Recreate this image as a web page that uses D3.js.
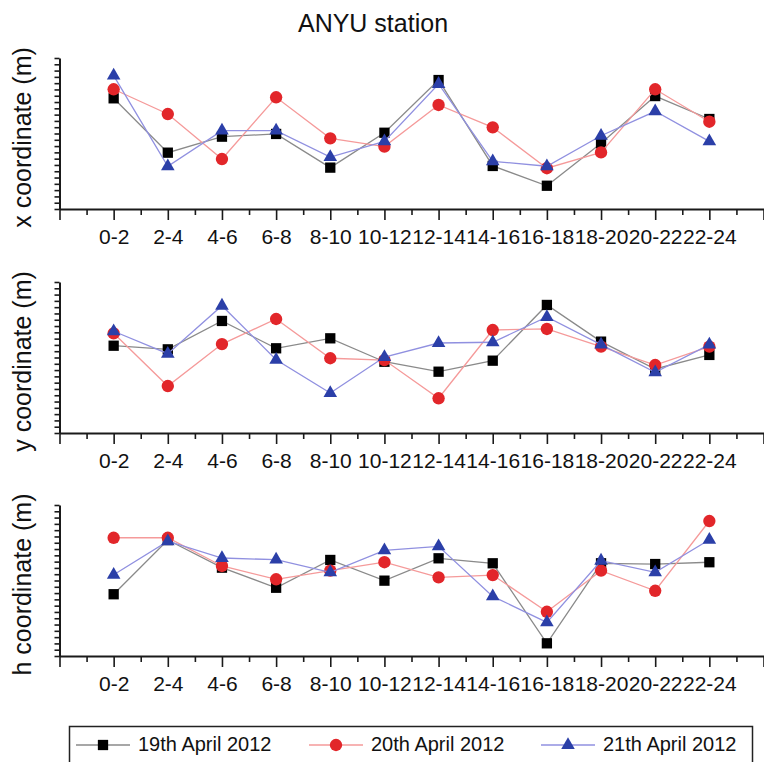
<!DOCTYPE html>
<html>
<head>
<meta charset="utf-8">
<script src="https://cdn.jsdelivr.net/npm/d3@7"></script>
<style>
  body { margin: 0; background: #fff; }
  svg { display: block; font-family: "Liberation Sans", Arial, sans-serif; }
</style>
</head>
<body>
<svg width="764" height="762"></svg>
<script>
// time windows (hours)
const hours = ['0-2', '2-4', '4-6', '6-8', '8-10', '10-12', '12-14', '14-16', '16-18', '18-20', '20-22', '22-24'];
const dayNames = ['19th April 2012', '20th April 2012', '21th April 2012'];

// relative coordinate values (no units shown, 0-100 of the axis)
const x19 = [73.3, 37.3, 47.9, 49.7, 27.4, 50.5, 85.4, 28.5, 15.4, 43.5, 74.8, 59.6];
const x20 = [79.3, 62.9, 33.1, 74.0, 46.8, 41.3, 68.9, 54.1, 27.0, 37.5, 79.3, 57.8];
const x21 = [88.3, 28.3, 51.9, 51.9, 34.4, 44.8, 82.8, 31.6, 28.3, 48.5, 64.7, 44.8];

const y19 = [57.8, 55.4, 74.2, 56.1, 62.7, 47.2, 40.6, 47.9, 84.8, 60.5, 42.4, 51.7];
const y20 = [66.0, 31.1, 58.9, 75.5, 49.5, 48.3, 23.0, 68.2, 68.9, 57.2, 45.0, 57.2];
const y21 = [67.4, 52.5, 84.3, 48.5, 26.5, 50.3, 59.6, 60.1, 76.8, 58.5, 40.2, 58.5];

const h19 = [40.9, 76.8, 58.5, 45.2, 63.6, 49.9, 64.7, 61.4, 8.4, 61.4, 60.9, 62.1];
const h20 = [78.3, 78.3, 59.6, 50.8, 56.5, 62.1, 52.1, 53.6, 29.3, 56.5, 43.2, 89.4];
const h21 = [53.8, 76.0, 64.9, 63.8, 55.4, 70.0, 72.6, 39.5, 22.3, 63.1, 55.4, 77.0];

const panelLabels = ['x coordinate (m)', 'y coordinate (m)', 'h coordinate (m)'];
const panelData = [[x19, x20, x21], [y19, y20, y21], [h19, h20, h21]];

const SVG = d3.select('svg');
const PANEL_TOPS = [58, 282, 505];
const PANEL_H = 151;

const LINE_COLORS = ['#8a8a8a', '#f59a9a', '#9090e0'];
const MARK_COLORS = ['#000000', '#e2262a', '#2b3fa8'];
const SYMBOLS = [d3.symbolSquare, d3.symbolCircle, d3.symbolTriangle];
const SYMBOL_SIZES = [106, 120, 80];

const X_SCALE = d3.scaleLinear()
  .domain([-1, 12])
  .range([59.5, 763.5]);

// title
SVG.append('text')
  .attr('x', 373)
  .attr('y', 31.5)
  .attr('text-anchor', 'middle')
  .style('font-size', '25px')
  .style('fill', '#111')
  .text('ANYU station');

panelData.forEach((series, p) => {
  const top = PANEL_TOPS[p];
  const bottom = top + PANEL_H;

  const Y_SCALE = d3.scaleLinear()
    .domain([0, 100])
    .range([bottom, top]);

  // y axis, tick marks only
  const yAxis = d3.axisLeft(Y_SCALE)
    .tickValues(d3.range(0, 100.01, 100 / 24))
    .tickSize(5)
    .tickSizeOuter(0)
    .tickFormat('');
  const yG = SVG.append('g')
    .attr('transform', `translate(${X_SCALE(-1)},0)`)
    .call(yAxis);
  yG.select('.domain').style('stroke', '#1a1a1a').style('stroke-width', 2);
  yG.selectAll('.tick line').style('stroke', '#1a1a1a').style('stroke-width', 1.6);

  // x axis with half-step minor ticks
  const xAxis = d3.axisBottom(X_SCALE)
    .tickValues(d3.range(-1, 12.01, 0.5))
    .tickSizeOuter(0)
    .tickFormat(d => (Number.isInteger(d) && d >= 0 && d < hours.length) ? hours[d] : '');
  const xG = SVG.append('g')
    .attr('transform', `translate(0,${bottom})`)
    .call(xAxis);
  xG.select('.domain').style('stroke', '#1a1a1a').style('stroke-width', 2);
  xG.selectAll('.tick line')
    .attr('y2', d => Number.isInteger(d) ? 11 : 6)
    .style('stroke', '#1a1a1a')
    .style('stroke-width', 1.6);
  xG.selectAll('.tick text')
    .attr('y', 35)
    .attr('dy', 0)
    .style('font-size', '21px')
    .style('font-family', '"Liberation Sans", Arial, sans-serif')
    .style('fill', '#111');

  // y label
  SVG.append('text')
    .attr('transform', `translate(31,${top + PANEL_H / 2 + 4}) rotate(-90)`)
    .attr('text-anchor', 'middle')
    .style('font-size', '25px')
    .style('fill', '#111')
    .text(panelLabels[p]);

  // series
  series.forEach((vals, s) => {
    const line = d3.line()
      .x((d, i) => X_SCALE(i))
      .y(d => Y_SCALE(d));
    SVG.append('path')
      .datum(vals)
      .attr('d', line)
      .style('fill', 'none')
      .style('stroke', LINE_COLORS[s])
      .style('stroke-width', 1.3);
    SVG.append('g')
      .selectAll('path')
      .data(vals)
      .join('path')
      .attr('transform', (d, i) => `translate(${X_SCALE(i)},${Y_SCALE(d)})`)
      .attr('d', d3.symbol().type(SYMBOLS[s]).size(SYMBOL_SIZES[s]))
      .style('fill', MARK_COLORS[s]);
  });
});

// legend
const LEGEND_X = [76, 309, 541];
const LEGEND_Y = 745;
SVG.append('rect')
  .attr('x', 69.5)
  .attr('y', 726.5)
  .attr('width', 683)
  .attr('height', 50)
  .style('fill', 'none')
  .style('stroke', '#222')
  .style('stroke-width', 1.5);

dayNames.forEach((name, s) => {
  const lx = LEGEND_X[s];
  SVG.append('line')
    .attr('x1', lx)
    .attr('x2', lx + 54)
    .attr('y1', LEGEND_Y)
    .attr('y2', LEGEND_Y)
    .style('stroke', LINE_COLORS[s])
    .style('stroke-width', 1.5);
  SVG.append('path')
    .attr('transform', `translate(${lx + 27},${LEGEND_Y})`)
    .attr('d', d3.symbol().type(SYMBOLS[s]).size(SYMBOL_SIZES[s]))
    .style('fill', MARK_COLORS[s]);
  SVG.append('text')
    .attr('x', lx + 62)
    .attr('y', 751)
    .style('font-size', '20px')
    .style('fill', '#111')
    .text(name);
});
</script>
</body>
</html>
